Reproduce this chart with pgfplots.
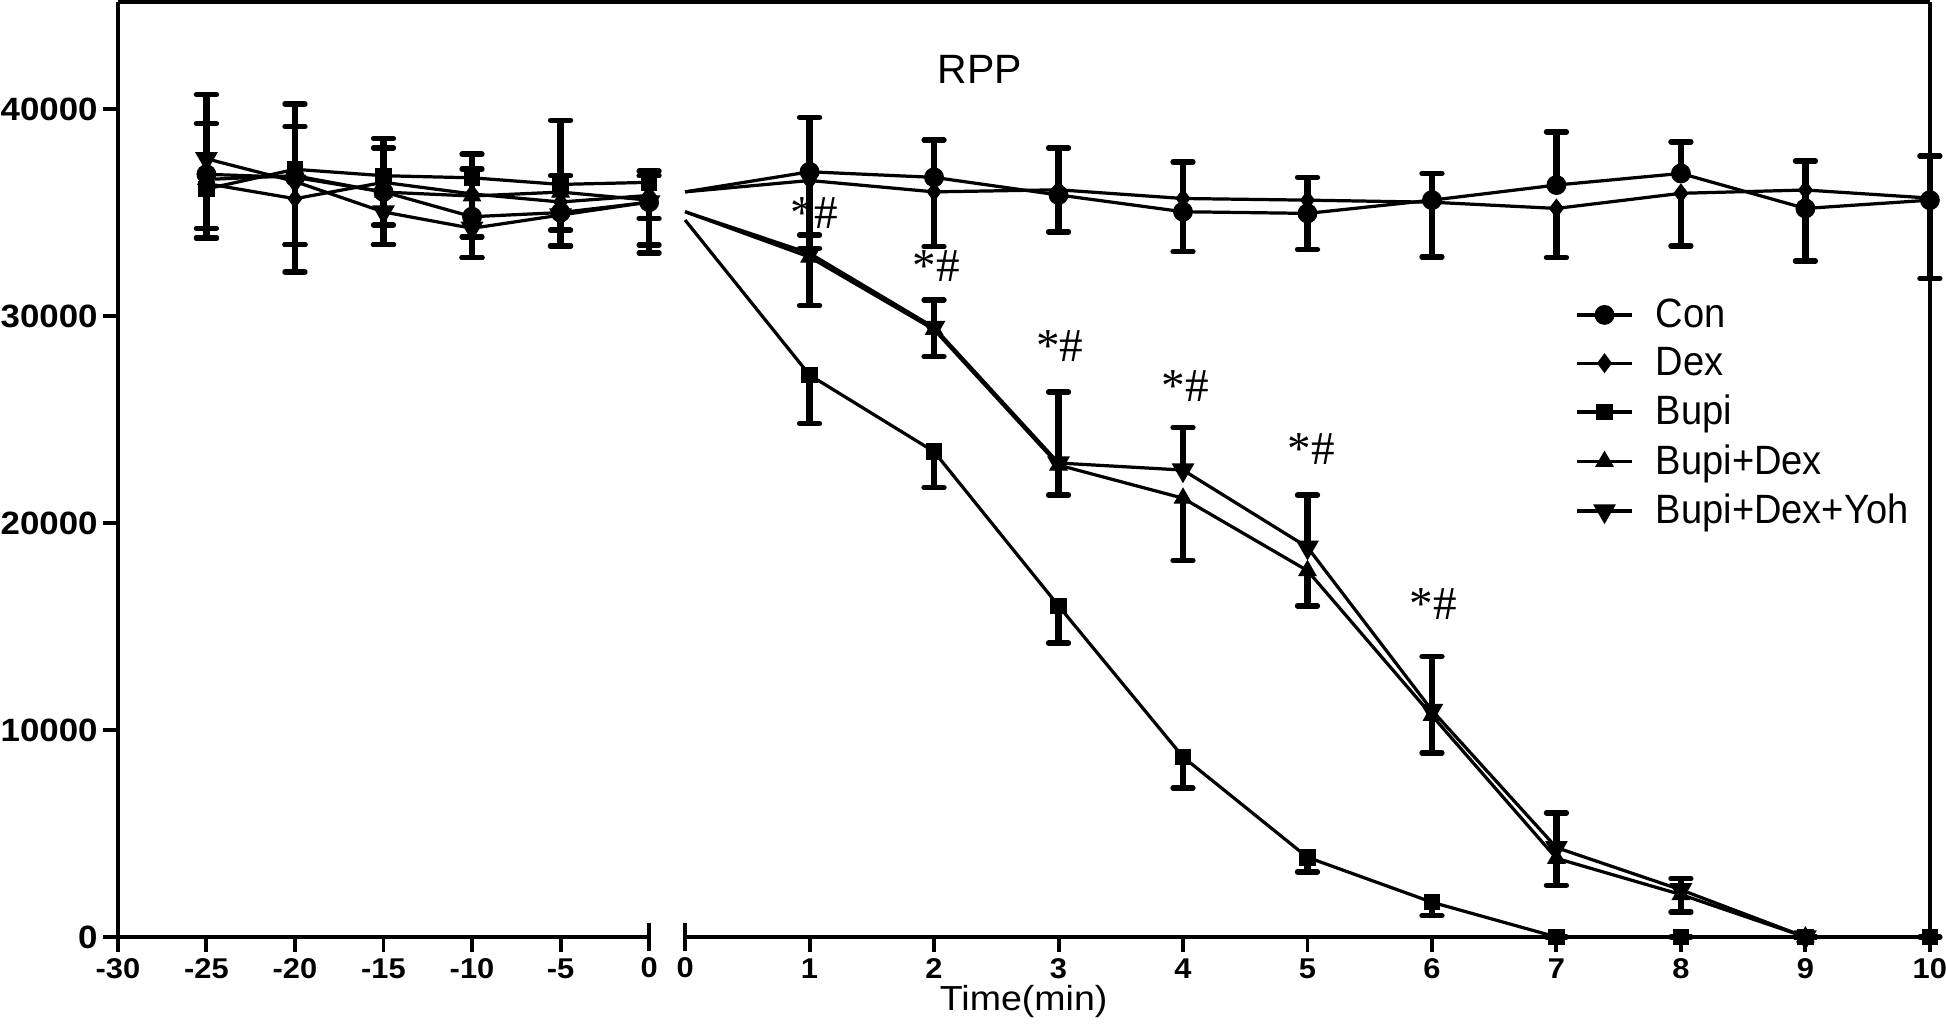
\documentclass[border=0pt]{standalone}
\usepackage{pgfplots}
\pgfplotsset{compat=1.18}
\usepackage{pgfplotstable}
\usepackage{fontspec}
\setmainfont{Liberation Sans}
\newfontfamily\tickfont[FakeStretch=1.08]{Liberation Sans}
\newfontfamily\legfont[FakeStretch=0.93]{Liberation Sans}
\newfontfamily\starfont{Liberation Serif}
\usetikzlibrary{calc}

% ---------- left segment (-30 .. 0) ----------
\pgfplotstableread{
x y e
-25 36850 2450
-20 36700 2450
-15 36000 2130
-10 34800 2300
-5 35000 1780
0 35500 1500
}\conL
\pgfplotstableread{
x y e
-25 36400 2160
-20 35670 2220
-15 36460 2060
-10 35900 2070
-5 35510 1360
0 35830 1110
}\dexL
\pgfplotstableread{
x y e
-25 36140 2370
-20 37090 4960
-15 36780 3330
-10 36680 3860
-5 36360 2970
0 36460 3020
}\bupL
\pgfplotstableread{
x y e
-25 36600 2830
-20 36780 3330
-15 35990 2540
-10 35800 2980
-5 35990 2600
0 35600 2560
}\bdL
\pgfplotstableread{
x y e
-25 37600 3100
-20 36500 3750
-15 35030 3550
-10 34240 3580
-5 34880 4580
0 35510 1270
}\yohL
% ---------- right segment (0 .. 10) ----------
\pgfplotstableread{
x y e
1 36970 2630
2 36700 1800
3 35850 2280
4 35040 2410
5 34960 1740
6 35600 1290
7 36330 2570
8 36890 1530
9 35200 2300
10 35600 2130
}\conR
\pgfplotstableread{
x y e
1 36550 3280
2 36000 2650
3 36100 2030
4 35680 2570
5 35600 2380
6 35500 2640
7 35200 2380
8 35930 2550
9 36090 3430
10 35700 3880
}\dexR
\pgfplotstableread{
x y e
1 27150 2340
2 23450 1730
3 16000 1800
4 8700 1500
5 3850 700
6 1680 650
7 0 0
8 0 0
9 0 0
10 0 0
}\bupR
\pgfplotstableread{
x y e
1 32850 2350
2 29350 1300
3 22800 1450
4 21200 3000
5 17700 1700
6 10700 1800
7 3800 1300
8 2050 850
9 0 0
}\bdR
\pgfplotstableread{
x y e
1 33030 880
2 29450 1320
3 22900 3430
4 22560 2060
5 18830 2520
6 10950 2600
7 4320 1680
8 2280 540
9 0 0
}\yohR

\pgfplotsset{
  rppbase/.style={
    scale only axis, height=376.5pt, ymin=0, ymax=45150, clip=false,
    axis line style={line width=1.6pt},
    tick style={line width=1.6pt, black},
    tick align=outside, major tick length=6pt,
    xticklabel style={font=\tickfont\bfseries\fontsize{11.5}{12}\selectfont, inner ysep=2.5pt},
    yticklabel style={font=\tickfont\bfseries\fontsize{13}{15}\selectfont, inner xsep=2pt},
    extra x ticks={0}, extra x tick labels={0},
    extra x tick style={tick align=center, major tick length=11.5pt},
  },
  ser/.style={black, line width=1.3pt, mark options={solid, fill=black, line width=0.4pt}},
  eb/.style={error bars/.cd, y dir=#1, y explicit,
    error bar style={line width=2.7pt, black},
    error mark options={rotate=90, line width=2.2pt, mark size=4pt, line cap=round, black}},
  mcon/.style={mark=*, mark size=3.8pt},
  mdex/.style={mark=diamond*, mark size=3.7pt},
  mbup/.style={mark=square*, mark size=3.1pt},
  mbd/.style={mark=triangle*, mark size=4pt},
  myoh/.style={mark=triangle*, mark size=4pt, mark options={rotate=180}},
}

\begin{document}
\begin{tikzpicture}
\begin{axis}[rppbase, name=L, width=214pt,
  xmin=-30, xmax=0,
  axis x line*=bottom, axis y line*=left,
  xtick={-30,-25,-20,-15,-10,-5}, xticklabels={-30,-25,-20,-15,-10,-5},
  ytick={0,10000,20000,30000,40000}, yticklabels={0,10000,20000,30000,40000},
]
\addplot[ser, mcon, eb=plus] table[x=x, y=y, y error=e] {\conL};
\addplot[ser, mdex, eb=minus] table[x=x, y=y, y error=e] {\dexL};
\addplot[ser, mbup, eb=minus] table[x=x, y=y, y error=e] {\bupL};
\addplot[ser, mbd, eb=minus] table[x=x, y=y, y error=e] {\bdL};
\addplot[ser, myoh, eb=plus] table[x=x, y=y, y error=e] {\yohL};
\end{axis}

\begin{axis}[rppbase, name=R, width=501.5pt,
  at={(L.south east)}, anchor=south west, xshift=14.5pt,
  xmin=0, xmax=10,
  axis x line*=bottom, axis y line*=right,
  xtick={1,2,3,4,5,6,7,8,9,10}, xticklabels={1,2,3,4,5,6,7,8,9,10},
  ytick=\empty,
  legend style={at={(axis cs:7.15,31100)}, anchor=north west, draw=none, fill=none,
    font=\legfont\fontsize{16.5}{19}\selectfont, row sep=2.5pt, column sep=7pt, inner sep=0pt},
  legend cell align=left,
  legend image code/.code={\draw[mark repeat=2,mark phase=2] plot coordinates {(0pt,0pt) (11pt,0pt) (22pt,0pt)};},
]
\addplot[ser, no marks, forget plot] coordinates {(0,36000) (1,36970)};
\addplot[ser, no marks, forget plot] coordinates {(0,36000) (1,36550)};
\addplot[ser, no marks, forget plot] coordinates {(0,34640) (1,27150)};
\addplot[ser, no marks, forget plot] coordinates {(0,35040) (1,32850)};
\addplot[ser, no marks, forget plot] coordinates {(0,35040) (1,33030)};
\addplot[ser, mcon, eb=plus] table[x=x, y=y, y error=e] {\conR};
\addlegendentry{Con}
\addplot[ser, mdex, eb=minus] table[x=x, y=y, y error=e] {\dexR};
\addlegendentry{Dex}
\addplot[ser, mbup, eb=minus] table[x=x, y=y, y error=e] {\bupR};
\addlegendentry{Bupi}
\addplot[ser, mbd, eb=minus] table[x=x, y=y, y error=e] {\bdR};
\addlegendentry{Bupi+Dex}
\addplot[ser, myoh, eb=plus] table[x=x, y=y, y error=e] {\yohR};
\addlegendentry{Bupi+Dex+Yoh}

\node[font=\fontsize{16.5}{19}\selectfont] at (axis cs:2.37,41920) {RPP};
\node[font=\tickfont\fontsize{14}{16}\selectfont, anchor=base] at (axis cs:2.72,0) [yshift=-29.8pt] {Time(min)};
\begin{scope}[every node/.style={font=\starfont\fontsize{19}{22}\selectfont}]
\node at (axis cs:1.04,34980) {*\#};
\node at (axis cs:2.02,32400) {*\#};
\node at (axis cs:3.01,28570) {*\#};
\node at (axis cs:4.02,26630) {*\#};
\node at (axis cs:5.03,23570) {*\#};
\node at (axis cs:6.01,16070) {*\#};
\end{scope}
\end{axis}

\draw[line width=1.6pt] (L.north west) -- (R.north east);

\pgfresetboundingbox
\path[use as bounding box] ($(L.south west)+(-47.5pt,-37pt)$) rectangle ($(L.south west)+(736.5pt,377.5pt)$);
\end{tikzpicture}
\end{document}
